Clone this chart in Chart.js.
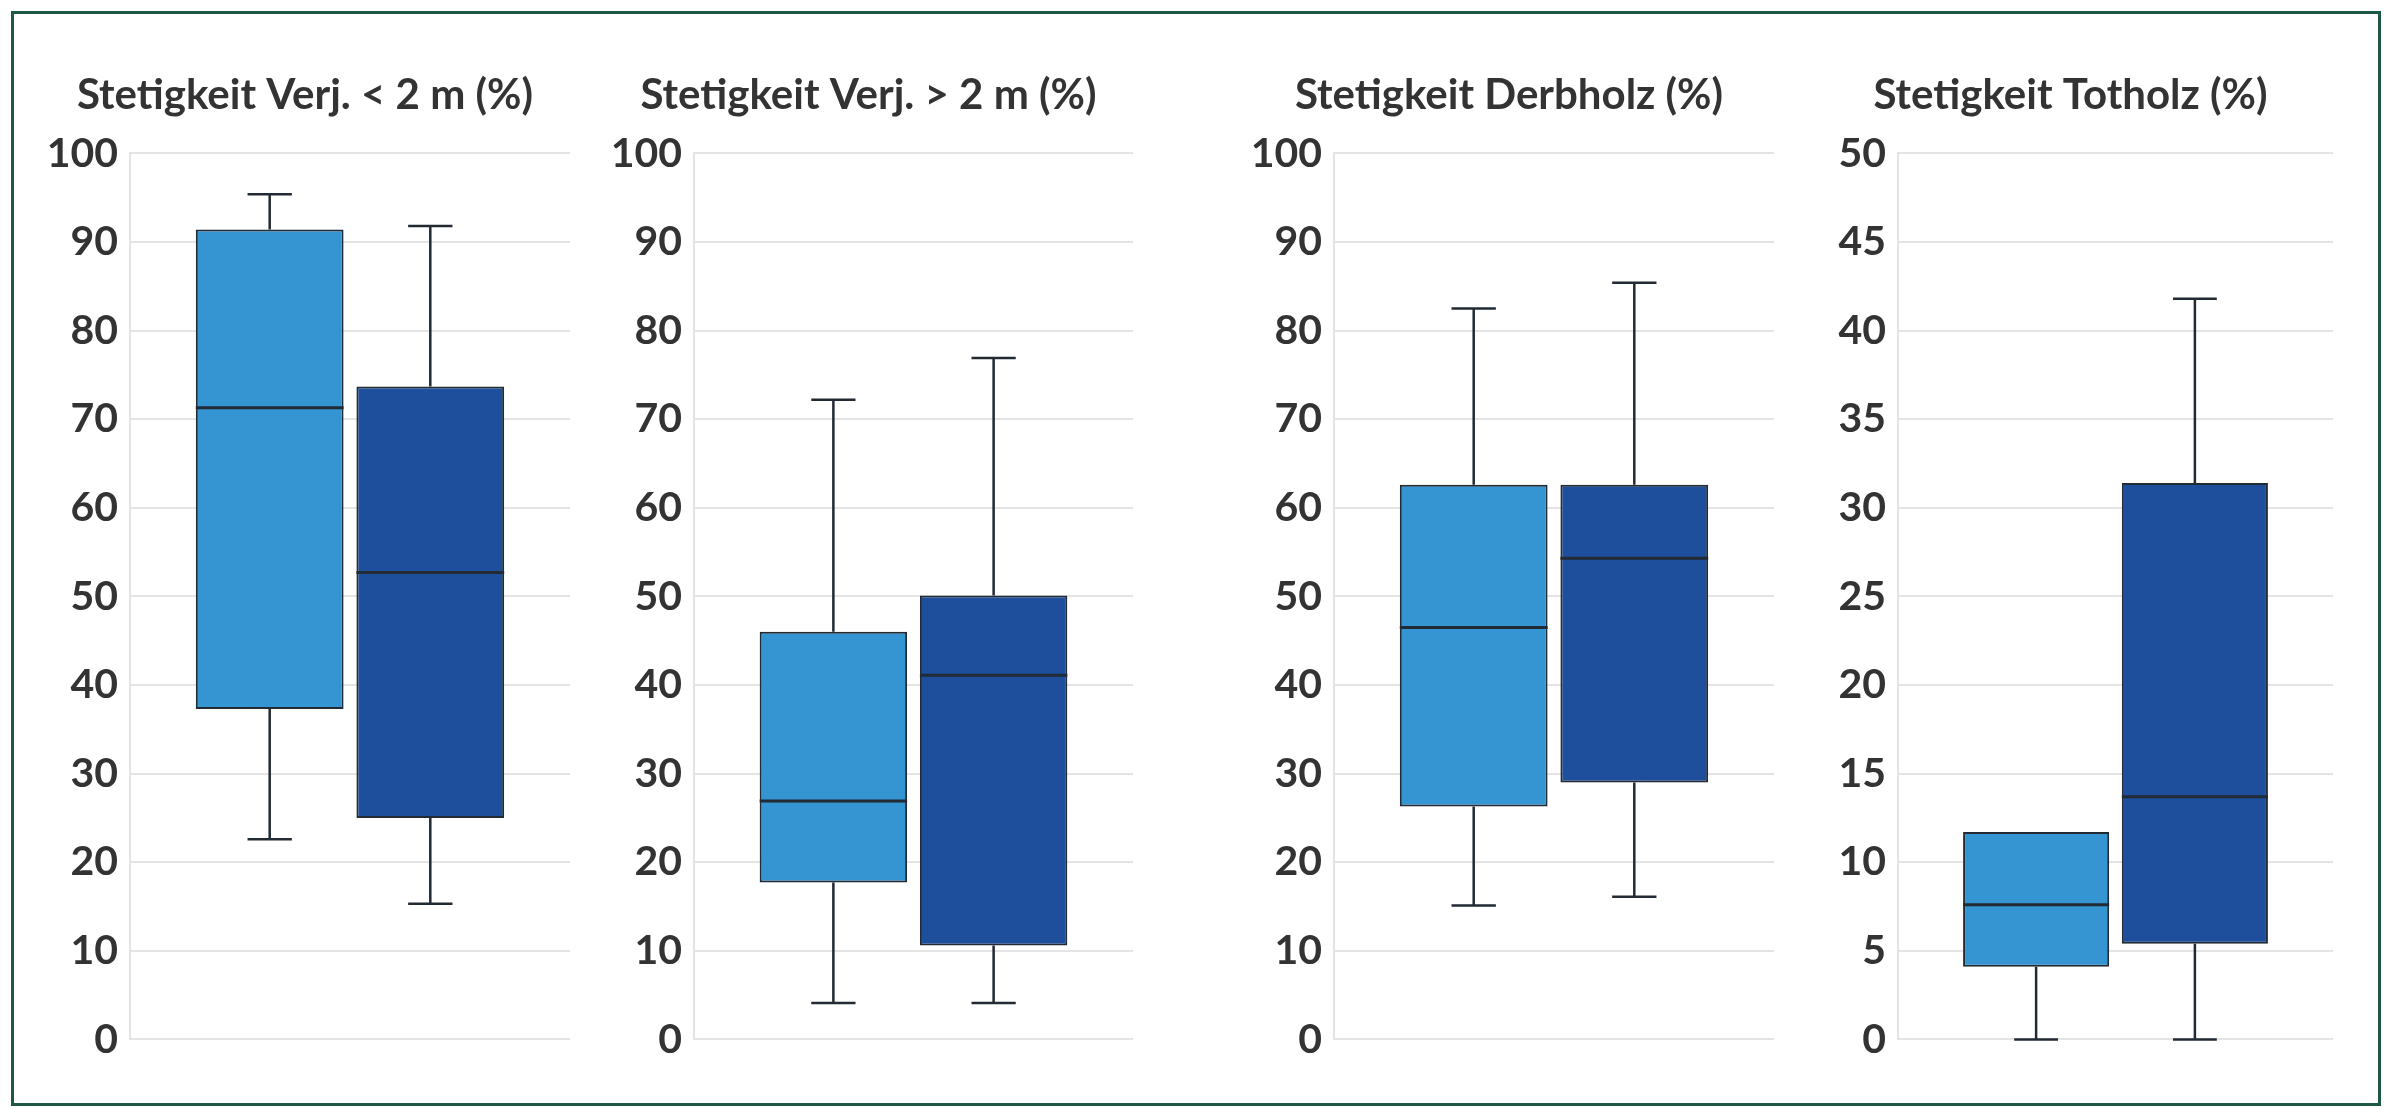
<!DOCTYPE html>
<html>
<head>
<meta charset="utf-8">
<script src="https://cdn.jsdelivr.net/npm/chart.js@4/dist/chart.umd.min.js"></script>
<style>
  body { margin: 0; background: #fff; width: 2400px; height: 1117px; overflow: hidden; }
  #frame { position: absolute; left: 11px; top: 11px; width: 2364px; height: 1089px; border: 3px solid #1d5842; }
  .panel { position: absolute; top: 50px; height: 1026px; }
</style>
</head>
<body>
<div id="frame"></div>
<div class="panel" style="left:40px;width:530px"><canvas id="c0"></canvas></div>
<div class="panel" style="left:604px;width:529px"><canvas id="c1"></canvas></div>
<div class="panel" style="left:1244px;width:530px"><canvas id="c2"></canvas></div>
<div class="panel" style="left:1808px;width:525px"><canvas id="c3"></canvas></div>
<script>
const titles = ["Stetigkeit Verj. < 2 m (%)", "Stetigkeit Verj. > 2 m (%)", "Stetigkeit Derbholz (%)", "Stetigkeit Totholz (%)"];
const yMax = [100, 100, 100, 50];
const yStep = [10, 10, 10, 5];

// light blue group: min, q1, median, q3, max per panel
const lightMin = [22.6, 4.1, 15.1, 0];
const lightQ1 = [37.3, 17.7, 26.3, 4.1];
const lightMedian = [71.3, 26.9, 46.5, 7.6];
const lightQ3 = [91.4, 46.0, 62.6, 11.7];
const lightMax = [95.4, 72.2, 82.5, 11.7];

// dark blue group
const darkMin = [15.3, 4.1, 16.1, 0];
const darkQ1 = [25.0, 10.6, 29.0, 5.4];
const darkMedian = [52.7, 41.1, 54.3, 13.7];
const darkQ3 = [73.7, 50.1, 62.6, 31.4];
const darkMax = [91.8, 76.9, 85.4, 41.8];

const lightColor = "#3594d2";
const darkColor = "#1d4f9c";
const lineColor = "#222a33";
const fontFamily = "Lato, 'Open Sans', sans-serif";

function makeChart(i) {
  const stats = [
    { min: lightMin[i], median: lightMedian[i], q3: lightQ3[i], q1: lightQ1[i], max: lightMax[i] },
    { min: darkMin[i], median: darkMedian[i], q3: darkQ3[i], q1: darkQ1[i], max: darkMax[i] }
  ];

  const whiskers = {
    id: "whiskers",
    afterDatasetsDraw(chart) {
      const ctx = chart.ctx;
      const y = chart.scales.y;
      ctx.save();
      ctx.strokeStyle = lineColor;
      stats.forEach(function (s, d) {
        const bar = chart.getDatasetMeta(d).data[0];
        const half = bar.width / 2;
        const cap = bar.width * 0.15;
        ctx.lineWidth = 2.5;
        ctx.beginPath();
        if (s.max > s.q3) {
          ctx.moveTo(bar.x, y.getPixelForValue(s.q3));
          ctx.lineTo(bar.x, y.getPixelForValue(s.max));
          ctx.moveTo(bar.x - cap, y.getPixelForValue(s.max));
          ctx.lineTo(bar.x + cap, y.getPixelForValue(s.max));
        }
        if (s.min < s.q1) {
          ctx.moveTo(bar.x, y.getPixelForValue(s.q1));
          ctx.lineTo(bar.x, y.getPixelForValue(s.min));
          ctx.moveTo(bar.x - cap, y.getPixelForValue(s.min));
          ctx.lineTo(bar.x + cap, y.getPixelForValue(s.min));
        }
        ctx.stroke();
        ctx.lineWidth = 3;
        ctx.beginPath();
        ctx.moveTo(bar.x - half, y.getPixelForValue(s.median));
        ctx.lineTo(bar.x + half, y.getPixelForValue(s.median));
        ctx.stroke();
      });
      ctx.restore();
    }
  };

  new Chart(document.getElementById("c" + i), {
    type: "bar",
    data: {
      labels: [""],
      datasets: [
        { data: [[lightQ1[i], lightQ3[i]]], backgroundColor: lightColor },
        { data: [[darkQ1[i], darkQ3[i]]], backgroundColor: darkColor }
      ]
    },
    options: {
      responsive: true,
      maintainAspectRatio: false,
      animation: false,
      categoryPercentage: 0.73,
      barPercentage: 0.92,
      borderWidth: 2,
      borderColor: lineColor,
      borderSkipped: false,
      layout: { padding: { bottom: 20, right: 0 } },
      scales: {
        x: { display: false },
        y: {
          min: 0,
          max: yMax[i],
          afterFit: function (scale) { scale.width = 90; },
          ticks: {
            stepSize: yStep[i],
            padding: 12,
            color: "#333",
            font: { family: fontFamily, size: 41, weight: "bold" }
          },
          grid: { color: "#e4e4e4", lineWidth: 2, drawTicks: false },
          border: { color: "#e4e4e4", width: 2 }
        }
      },
      plugins: {
        legend: { display: false },
        tooltip: { enabled: false },
        title: {
          display: true,
          text: titles[i],
          color: "#333",
          font: { family: fontFamily, size: 42, weight: "bold" },
          padding: { top: 20, bottom: 33 }
        }
      }
    },
    plugins: [whiskers]
  });
}

for (let i = 0; i < titles.length; i++) makeChart(i);
</script>
</body>
</html>
